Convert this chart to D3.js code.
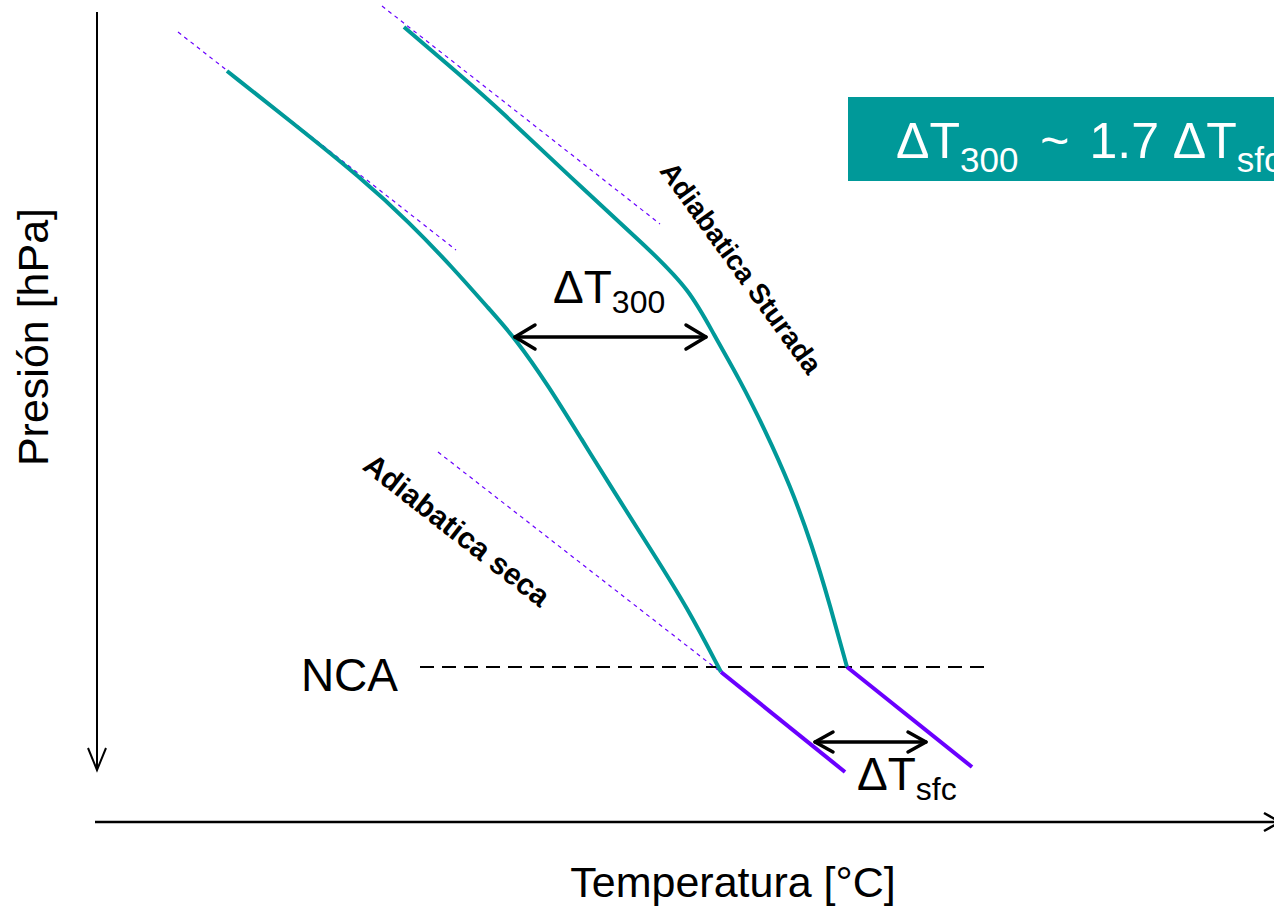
<!DOCTYPE html>
<html><head><meta charset="utf-8">
<script src="https://cdn.jsdelivr.net/npm/d3@7"></script>
<style>html,body{margin:0;padding:0;background:#fff;overflow:hidden}</style>
</head><body>
<svg id="c" width="1274" height="907"></svg>
<script>
// Schematic temperature (°C) / pressure (hPa) values
const moistLeftT = [-46.9,-40.2,-33.6,-28.6,-24.3,-20.6,-18.1,-14.8,-11.4,-8.3,-4.3,-0.9,2.5];
const moistLeftP = [301,354,407,453,498,540,568,615,670,720,783,837,902];
const moistRightT = [-29.2,-23.6,-19.6,-12.6,-4.8,-0.6,1.8,4.4,6.9,9.4,11.6,13.4,15.1];
const moistRightP = [257,305,340,407,478,520,565,610,660,715,775,835,897];
const dryLeftT = [2.5, 14.9];
const dryLeftP = [902, 1002];
const dryRightT = [15.1, 27.6];
const dryRightP = [897, 997];
const guideT = [[-51.8,-24.0],[-31.4,-3.6],[-25.8,2.2]];
const guideP = [[262,480],[236,454],[682,900]];
const ncaP = 897;
const ncaT = [-27.6, 29.4];
const d300T = [-18.1, 1.0], d300P = 567;
const dsfcT = [11.9, 23.0], dsfcP = 972;
const axisT = -59.9, axisP = 1052;

const svg = d3.select('#c');
const x = d3.scaleLinear().domain([-60, 60]).range([96, 1296]);
const y = d3.scaleLinear().domain([230, 1052]).range([0, 822]);
const FONT = '"Liberation Sans", Arial, sans-serif';
const TEAL = '#009999', PURPLE = '#6a00ff';

const zip = (a, b) => a.map((v, i) => [v, b[i]]);
const line = d3.line().x(d => x(d[0])).y(d => y(d[1]));
const curve = d3.line().x(d => x(d[0])).y(d => y(d[1])).curve(d3.curveBasis);

// guide dashed dry adiabats
guideT.forEach((t, i) => {
  svg.append('path').attr('d', line(zip(t, guideP[i])))
    .attr('stroke', PURPLE).attr('stroke-width', 1.2).attr('fill', 'none')
    .attr('stroke-dasharray', '4,4');
});

// NCA dashed line
svg.append('path').attr('d', line(zip(ncaT, [ncaP, ncaP])))
  .attr('stroke', '#000').attr('stroke-width', 2).attr('fill', 'none')
  .attr('stroke-dasharray', '14,8');

// moist adiabats
[[moistLeftT, moistLeftP], [moistRightT, moistRightP]].forEach(([t, p]) => {
  svg.append('path').attr('d', curve(zip(t, p)))
    .attr('stroke', TEAL).attr('stroke-width', 4).attr('fill', 'none');
});
// dry adiabats below NCA
[[dryLeftT, dryLeftP], [dryRightT, dryRightP]].forEach(([t, p]) => {
  svg.append('path').attr('d', line(zip(t, p)))
    .attr('stroke', PURPLE).attr('stroke-width', 4).attr('fill', 'none');
});

// double arrows
function dblArrow(t, p, head, hw) {
  const x0 = x(t[0]), x1 = x(t[1]), yy = y(p);
  const g = svg.append('g').attr('stroke', '#000').attr('stroke-width', 3.5).attr('fill', 'none')
    .attr('stroke-linecap', 'round').attr('stroke-linejoin', 'round');
  g.append('path').attr('d', `M${x0},${yy}L${x1},${yy}`);
  g.append('path').attr('d', `M${x0 + head},${yy - hw}L${x0},${yy}L${x0 + head},${yy + hw}`);
  g.append('path').attr('d', `M${x1 - head},${yy - hw}L${x1},${yy}L${x1 - head},${yy + hw}`);
}
dblArrow(d300T, d300P, 20, 12);
dblArrow(dsfcT, dsfcP, 18, 10);

// axes
const ax = x(axisT);
svg.append('path').attr('d', `M${ax},${y(242)}L${ax},${y(1000)}`)
  .attr('stroke', '#000').attr('stroke-width', 2).attr('fill', 'none');
svg.append('path').attr('d', `M${ax - 9},${y(1000) - 22}L${ax},${y(1000)}L${ax + 9},${y(1000) - 22}`)
  .attr('stroke', '#000').attr('stroke-width', 2).attr('fill', 'none');
const ay = y(axisP);
svg.append('path').attr('d', `M${x(-60.1)},${ay}L${1280},${ay}`)
  .attr('stroke', '#000').attr('stroke-width', 2.5).attr('fill', 'none');
svg.append('path').attr('d', `M${1264},${ay - 9}L${1280},${ay}L${1264},${ay + 9}`)
  .attr('stroke', '#000').attr('stroke-width', 2.5).attr('fill', 'none');

// texts
svg.append('text').attr('x', x(3.7)).attr('y', 897).attr('text-anchor', 'middle')
  .attr('font-family', FONT).attr('font-size', 43).text('Temperatura [°C]');
svg.append('text').attr('transform', `translate(48,337) rotate(-90)`).attr('text-anchor', 'middle')
  .attr('font-family', FONT).attr('font-size', 43).text('Presión [hPa]');
svg.append('text').attr('x', x(-29.8)).attr('y', y(ncaP) + 24).attr('text-anchor', 'end')
  .attr('font-family', FONT).attr('font-size', 46).text('NCA');

function deltaLabel(px, py, sub, big, small, dy, color) {
  const t = svg.append('text').attr('x', px).attr('y', py)
    .attr('font-family', FONT).attr('font-size', big).attr('fill', color);
  t.append('tspan').text('ΔT');
  t.append('tspan').attr('font-size', small).attr('dy', dy).text(sub);
  return t;
}
deltaLabel(553, 303, '300', 46, 32, 10, '#000');
deltaLabel(857, 790, 'sfc', 46, 32, 10, '#000');

// title box
svg.append('rect').attr('x', 848).attr('y', 97).attr('width', 440).attr('height', 84).attr('fill', TEAL);
const tt = svg.append('text').attr('x', 896).attr('y', 158)
  .attr('font-family', FONT).attr('font-size', 50).attr('fill', '#fff');
tt.append('tspan').text('ΔT');
tt.append('tspan').attr('font-size', 35).attr('dy', 14).text('300');
tt.append('tspan').attr('dy', -14).attr('dx', 22).text('~');
tt.append('tspan').attr('dx', 6).text(' 1.7 ΔT');
tt.append('tspan').attr('font-size', 35).attr('dy', 14).text('sfc');

// rotated labels
svg.append('text').attr('transform', 'translate(741,268) rotate(54)')
  .attr('text-anchor', 'middle').attr('dominant-baseline', 'central')
  .attr('font-family', FONT).attr('font-weight', 'bold').attr('font-size', 28).text('Adiabatica Sturada');
svg.append('text').attr('transform', 'translate(457,530) rotate(38)')
  .attr('text-anchor', 'middle').attr('dominant-baseline', 'central')
  .attr('font-family', FONT).attr('font-weight', 'bold').attr('font-size', 30).text('Adiabatica seca');
</script>
</body></html>
